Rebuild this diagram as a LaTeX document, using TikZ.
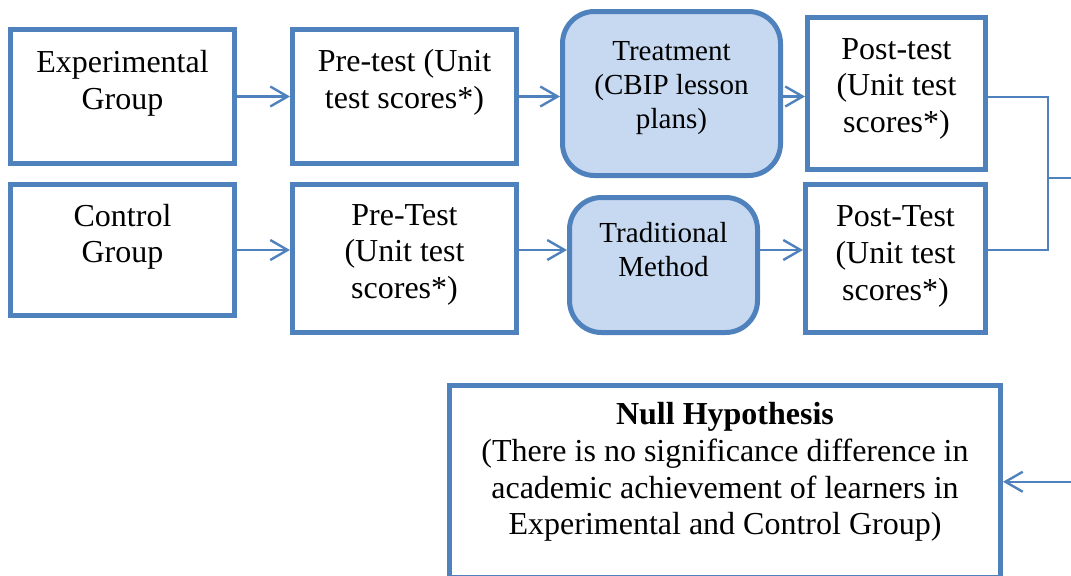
\documentclass[tikz,border=0pt]{standalone}
\usepackage{fontspec}
\setmainfont{Liberation Serif}
\usetikzlibrary{arrows.meta}
\definecolor{bord}{HTML}{4F81BD}
\definecolor{fillb}{HTML}{C6D9F1}
\newcommand\stack[1]{\begin{tabular}[t]{@{}c@{}}#1\end{tabular}}
\newcommand\bigtxt{\fontsize{24}{27.5}\selectfont}
\newcommand\smalltxt{\fontsize{21.8}{25.7}\selectfont}
\begin{document}
\begin{tikzpicture}[x=0.75pt,y=-0.75pt,
  box/.style={draw=bord, line width=3.75pt, inner sep=0pt, anchor=center, font=\bigtxt},
  stage/.style={draw=bord, line width=3.75pt, inner sep=0pt, anchor=center, fill=fillb, rounded corners=24pt},
  arr/.style={draw=bord, line width=1.8pt, -{Straight Barb[length=13pt,width=15pt,line width=1.8pt]}},
  link/.style={draw=bord, line width=1.5pt}]
\useasboundingbox (0,0) rectangle (1071,575);

% first row
\node[box, minimum width=168pt, text height=32.4pt, text depth=68.1pt] (exp) at (122.5,96.5) {\stack{Experimental\\Group}};
\node[box, minimum width=168pt, text height=31.65pt, text depth=68.85pt] (pre1) at (404.5,96.5) {\stack{Pre-test (Unit\\test scores*)}};
\node[stage, minimum width=163.5pt, text height=36.4pt, text depth=86.6pt] (treat) at (671.5,93.5) {\smalltxt\stack{Treatment\\(CBIP lesson\\plans)}};
\node[box, minimum width=133.5pt, text height=31.35pt, text depth=82.65pt] (post1) at (896.5,93.5) {\stack{Post-test\\(Unit test\\scores*)}};

% second row
\node[box, minimum width=168pt, text height=31.1pt, text depth=67.1pt] (ctl) at (122.5,250) {\stack{Control\\Group}};
\node[box, minimum width=168pt, text height=30.4pt, text depth=80.6pt] (pre2) at (404.5,258.5) {\stack{Pre-Test\\(Unit test\\scores*)}};
\node[stage, minimum width=141pt, text height=33.9pt, text depth=67.35pt] (trad) at (663.5,265) {\smalltxt\stack{Traditional\\Method}};
\node[box, minimum width=135pt, text height=31.65pt, text depth=79.35pt] (post2) at (895.5,258.5) {\stack{Post-Test\\(Unit test\\scores*)}};

% hypothesis
\node[box, minimum width=413.25pt, text height=29.6pt, text depth=114.75pt] (null) at (725,481.75) {\stack{\textbf{Null Hypothesis}\\(There is no significance difference in\\academic achievement of learners in\\Experimental and Control Group)}};

% flow arrows
\draw[arr] (exp.east) -- (exp.east -| pre1.west);
\draw[arr] (pre1.east) -- (pre1.east -| treat.west);
\draw[arr] (treat.west |- pre1.east) ++(218,0) -- (post1.west |- pre1.east);
\draw[arr] (ctl.east) -- (ctl.east -| pre2.west);
\draw[arr] (pre2.east |- ctl.east) -- (trad.west |- ctl.east);
\draw[arr] (trad.east |- ctl.east) -- (post2.west |- ctl.east);

% bracket joining both post-tests
\coordinate (brk) at (1048,178);
\coordinate (far) at (1095,178);
\draw[link] (post1.east |- pre1.east) -| (brk) |- (post2.east |- ctl.east);
\draw[arr] (brk) -- (far) |- (null.east);
\end{tikzpicture}
\end{document}
